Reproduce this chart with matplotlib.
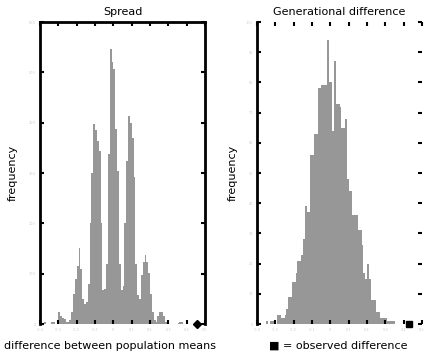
import numpy as np
import matplotlib
matplotlib.use("Agg")
import matplotlib.pyplot as plt

# histogram counts, bins of 0.01 from -0.4 to 0.5
bin_start = -0.4
bin_width = 0.01

spread_counts = [0, 0, 4, 0, 0, 0, 4, 4, 0, 6,
                 24, 16, 12, 10, 4, 4, 8, 24, 60, 90,
                 116, 152, 110, 50, 40, 44, 80, 200, 300, 398,
                 386, 364, 344, 200, 68, 70, 120, 338, 546, 520,
                 506, 388, 304, 120, 68, 76, 200, 324, 414, 400,
                 370, 292, 120, 58, 50, 98, 124, 138, 124, 102,
                 60, 24, 8, 4, 16, 24, 24, 16, 4, 0,
                 0, 0, 0, 0, 0, 2, 4, 4, 0, 0,
                 0, 0, 0, 0, 0, 0, 0, 0, 0, 0]

gen_counts = [0, 0, 0, 0, 0, 1, 0, 1, 1, 0,
              0, 3, 3, 2, 2, 3, 5, 9, 9, 14,
              14, 17, 21, 21, 23, 28, 39, 37, 37, 56,
              56, 63, 63, 78, 78, 79, 79, 79, 94, 80,
              80, 64, 87, 73, 73, 72, 65, 65, 68, 48,
              44, 44, 36, 36, 36, 31, 31, 26, 17, 15,
              20, 15, 8, 8, 8, 4, 4, 2, 2, 2,
              2, 1, 1, 1, 1, 0, 0, 0, 0, 0,
              0, 0, 0, 0, 0, 0, 0, 0, 0, 0]

observed_spread = 0.455
observed_gen = 0.43

x_ticks = [-0.4, -0.3, -0.2, -0.1, 0, 0.1, 0.2, 0.3, 0.4, 0.5]
x_labels = ["-0.4", "-0.3", "-0.2", "-0.1", "0", "0.1", "0.2", "0.3", "0.4", "0.5"]
spread_yticks = [0, 100, 200, 300, 400, 500, 600]
gen_yticks = [0, 10, 20, 30, 40, 50, 60, 70, 80, 90, 100]

bar_color = "#979797"
tick_color = "#cccccc"

fig = plt.figure(figsize=(4.28, 3.52), dpi=100)
ax1 = fig.add_axes([0.0935, 0.0795, 0.3855, 0.858])
ax2 = fig.add_axes([0.6005, 0.0795, 0.3855, 0.858])

edges = bin_start + bin_width * np.arange(len(spread_counts))
ax1.bar(edges, spread_counts, width=bin_width, align="edge",
        color=bar_color, linewidth=0)
edges2 = bin_start + bin_width * np.arange(len(gen_counts))
ax2.bar(edges2, gen_counts, width=bin_width, align="edge",
        color=bar_color, linewidth=0)

ax1.plot([observed_spread], [0], marker="D", color="black", ms=4,
         clip_on=False, zorder=5)
ax2.plot([observed_gen], [0], marker="s", color="black", ms=4,
         clip_on=False, zorder=5)

for ax, yt in [(ax1, spread_yticks), (ax2, gen_yticks)]:
    ax.set_xlim(-0.4, 0.5)
    ax.set_ylim(0, yt[-1])
    ax.set_xticks(x_ticks)
    ax.set_xticklabels(x_labels)
    ax.set_yticks(yt)
    ax.tick_params(direction="in", length=3, width=1.5, color="black",
                   labelsize=2.5, labelcolor=tick_color, pad=3,
                   top=True, right=True)
    ax.spines["bottom"].set_visible(False)
    for s in ["left", "right", "top"]:
        ax.spines[s].set_linewidth(2)

ax2.spines["right"].set_visible(False)
ax2.spines["top"].set_visible(False)

ax1.set_title("Spread", fontsize=8, pad=5)
ax2.set_title("Generational difference", fontsize=8, pad=5)
ax1.set_ylabel("frequency", fontsize=8, labelpad=8)
ax2.set_ylabel("frequency", fontsize=8, labelpad=6)
ax1.set_xlabel("difference between population means", fontsize=8)
ax1.xaxis.set_label_coords(0.425, -0.055)
ax2.set_xlabel("\u25a0 = observed difference", fontsize=8)
ax2.xaxis.set_label_coords(0.49, -0.055)

fig.savefig("out.png", dpi=100)
